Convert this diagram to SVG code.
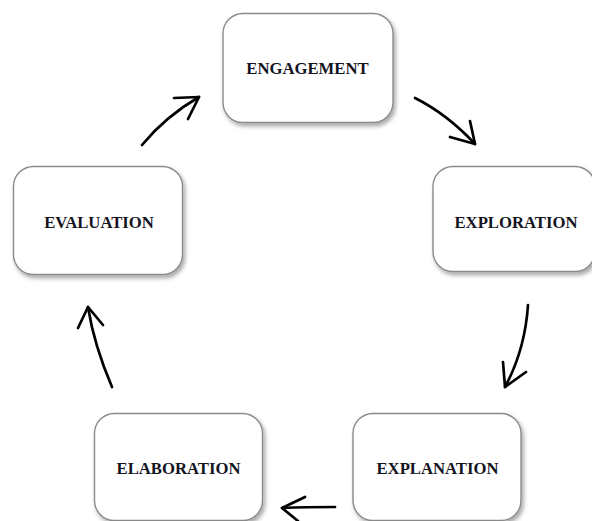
<svg xmlns="http://www.w3.org/2000/svg" width="592" height="521" viewBox="0 0 592 521">
  <defs>
    <filter id="shadow" x="-10%" y="-10%" width="125%" height="130%">
      <feDropShadow dx="2" dy="3" stdDeviation="2" flood-color="#000" flood-opacity="0.35"/>
    </filter>
  </defs>
  <style>
    .box { fill: #ffffff; stroke: #8a8a8a; stroke-width: 1.4; filter: url(#shadow); }
    .label { font-family: "Liberation Serif", "Times New Roman", serif; font-weight: bold; font-size: 16.7px; fill: #14141f; text-anchor: middle; }
    .arrow { fill: none; stroke: #000; stroke-width: 2.7; stroke-linecap: round; stroke-linejoin: round; }
  </style>
  <rect width="592" height="521" fill="#ffffff"/>

  <g id="engagement">
    <rect class="box" x="223" y="13.5" width="170" height="109" rx="20" ry="20"/>
    <text class="label" x="307.5" y="74">ENGAGEMENT</text>
  </g>
  <g id="exploration">
    <rect class="box" x="433" y="166.5" width="162" height="105" rx="20" ry="20"/>
    <text class="label" x="516" y="227.5">EXPLORATION</text>
  </g>
  <g id="explanation">
    <rect class="box" x="353" y="413.5" width="168" height="107" rx="20" ry="20"/>
    <text class="label" x="437.5" y="474">EXPLANATION</text>
  </g>
  <g id="elaboration">
    <rect class="box" x="94.5" y="413.5" width="168" height="107" rx="20" ry="20"/>
    <text class="label" x="178.5" y="474">ELABORATION</text>
  </g>
  <g id="evaluation">
    <rect class="box" x="13.5" y="166.5" width="169" height="108" rx="20" ry="20"/>
    <text class="label" x="99" y="227.5">EVALUATION</text>
  </g>

  <g id="connectors">
    <path class="arrow" d="M142,145 Q166,116 199,97"/>
    <path class="arrow" d="M174,98 L199,97 L188,119"/>

    <path class="arrow" d="M415,98 Q447,114 475,144"/>
    <path class="arrow" d="M450,137 L475,144 L470,121"/>

    <path class="arrow" d="M528,305 Q525,350 505,387"/>
    <path class="arrow" d="M503,362 L505,387 L526,372"/>

    <path class="arrow" d="M335,507 Q305,507 282,508"/>
    <path class="arrow" d="M305,497 L282,508 L298,521"/>

    <path class="arrow" d="M112,387 Q94,345 88,307"/>
    <path class="arrow" d="M78,328 L88,307 L103,325"/>
  </g>
</svg>
